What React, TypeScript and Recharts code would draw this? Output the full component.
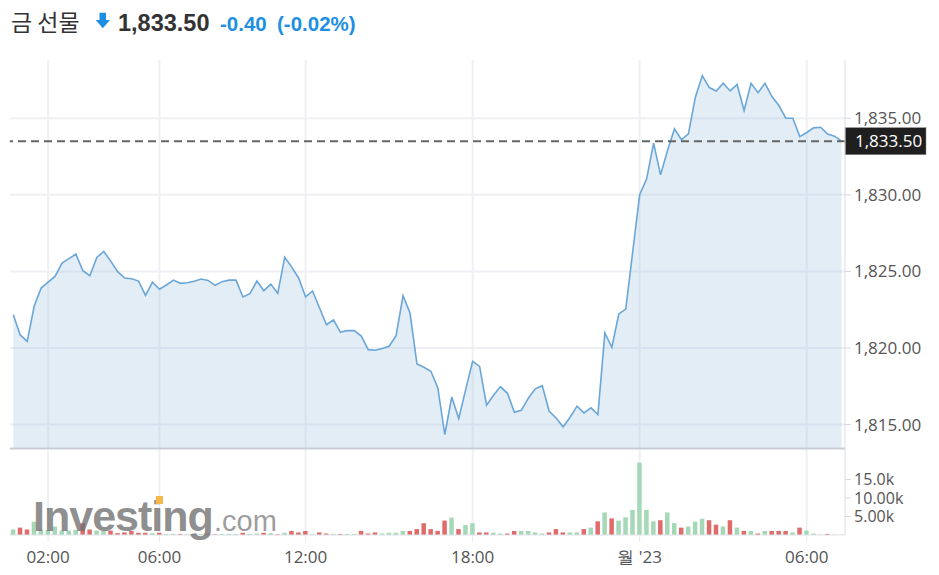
import { ComposedChart, Area, Bar, Cell, XAxis, YAxis, CartesianGrid, ReferenceLine } from "recharts";

const title = "금 선물";
const lastPriceText = "1,833.50";
const changeText = "-0.40";
const changePctText = "(-0.02%)";

// 15-minute closes
const prices = [
  1822.17, 1820.85, 1820.43, 1822.72, 1823.91, 1824.3, 1824.67, 1825.54, 1825.83, 1826.13,
  1825.04, 1824.72, 1825.91, 1826.3, 1825.67, 1824.98, 1824.57, 1824.52, 1824.37, 1823.43,
  1824.3, 1823.83, 1824.11, 1824.43, 1824.22, 1824.26, 1824.35, 1824.5, 1824.41, 1824.09,
  1824.33, 1824.43, 1824.43, 1823.33, 1823.54, 1824.37, 1823.74, 1824.17, 1823.57, 1825.93,
  1825.28, 1824.57, 1823.33, 1823.72, 1822.61, 1821.52, 1821.83, 1821.04, 1821.13, 1821.13,
  1820.78, 1819.89, 1819.85, 1819.96, 1820.11, 1820.8, 1823.41, 1822.28, 1818.96, 1818.74,
  1818.48, 1817.39, 1814.35, 1816.8, 1815.39, 1817.28, 1819.13, 1818.8, 1816.26, 1816.91,
  1817.48, 1817.04, 1815.8, 1815.93, 1816.72, 1817.33, 1817.54, 1815.87, 1815.43, 1814.85,
  1815.48, 1816.2, 1815.76, 1816.09, 1815.65, 1820.98, 1820.04, 1822.22, 1822.54, 1826.28,
  1830.0, 1831.04, 1833.37, 1831.3, 1832.89, 1834.3, 1833.59, 1833.98, 1836.37, 1837.78,
  1837.0, 1836.78, 1837.28, 1836.78, 1837.2, 1835.5, 1837.28, 1836.67, 1837.28, 1836.41,
  1835.83, 1835.0, 1835.0, 1833.8, 1834.07, 1834.37, 1834.41, 1833.96, 1833.83, 1833.5,
];

const volumes = [
  1500, 2000, 1500, 3600, 1500, 1400, 2300, 1200, 1200, 1400,
  3200, 1500, 1200, 1200, 1200, 500, 700, 1100, 600, 600,
  500, 600, 300, 300, 300, 200, 200, 300, 300, 200,
  300, 300, 300, 600, 300, 400, 600, 500, 200, 600,
  1100, 700, 1100, 200, 700, 400, 300, 300, 300, 300,
  1100, 400, 700, 400, 600, 600, 1100, 1100, 1600, 3200,
  1600, 1100, 3900, 4700, 1600, 2700, 3200, 700, 700, 600,
  400, 400, 1100, 1100, 1100, 700, 400, 700, 1600, 700,
  700, 700, 1600, 2000, 3700, 6100, 4500, 3900, 4800, 6800,
  19600, 6800, 3700, 4000, 6100, 3200, 2000, 2300, 3600, 4400,
  4000, 2800, 2300, 4000, 2000, 1100, 1100, 400, 1100, 1100,
  1100, 1100, 700, 2000, 1200, 400, 100, 300, 50, 50,
];

const xTickIdx = [5, 21, 42, 66, 90, 114];
const xTickText = ["02:00", "06:00", "12:00", "18:00", "월 '23", "06:00"];
const priceTicks = [1815, 1820, 1825, 1830, 1835];
const volTicks = [5000, 10000, 15000];
const volTickText = ["5.00k", "10.00k", "15.0k"];
const lastPrice = 1833.5;

const priceDomain = [1807.79, 1838.8];
const priceFloor = 1813.43;
const volDomain = [0, 128600];

const data = prices.map((p, i) => ({
  i,
  price: p,
  vol: volumes[i],
  up: i === 0 || p >= prices[i - 1],
}));

const axisFont = "'Open Sans', 'Noto Sans', sans-serif";
const gridColor = "#eef0f3";

const PriceTag = (props: any) => {
  const vb = props.viewBox || {};
  const x = vb.x + vb.width;
  const y = vb.y;
  return (
    <g>
      <rect x={x} y={y - 13.5} width={81} height={27} fill="#1f1f1f" stroke="#888" strokeWidth={0.5} />
      <text x={x + 10} y={y + 6} fill="#fff" fontSize={17} fontFamily={axisFont}>
        {lastPriceText}
      </text>
    </g>
  );
};

export default function App() {
  return (
    <div style={{ position: "absolute", left: 0, top: 0, width: 939, height: 575, background: "#fff" }}>
      <svg width={939} height={48} style={{ position: "absolute", left: 0, top: 0 }}>
        <text x={11} y={31} fontFamily="'Noto Sans CJK KR', sans-serif" fontSize={23} fill="#333">
          {title}
        </text>
        <path d="M99.5 12.7 H106 V20 H110 L102.8 28.3 L95.7 20 H99.5 Z" fill="#1f8fe5" />
        <text x={118} y={30.5} fontFamily="'Liberation Sans', Arial, sans-serif" fontWeight="bold" fontSize={23.5} fill="#333">
          {lastPriceText}
        </text>
        <text x={220} y={30.5} fontFamily="'Liberation Sans', Arial, sans-serif" fontWeight="bold" fontSize={20.5} fill="#1e8fe3">
          {changeText}
        </text>
        <text x={277} y={30.5} fontFamily="'Liberation Sans', Arial, sans-serif" fontWeight="bold" fontSize={20.5} fill="#1e8fe3">
          {changePctText}
        </text>
      </svg>

      <div style={{ position: "absolute", left: 0, top: 0 }}>
        <ComposedChart width={939} height={575} data={data} margin={{ top: 60, right: 93.8, bottom: 10, left: 9.8 }}>
          <CartesianGrid yAxisId="price" stroke={gridColor} strokeWidth={2} syncWithTicks />
          <XAxis
            dataKey="i"
            type="category"
            ticks={xTickIdx}
            interval={0}
            tickFormatter={(v: number) => xTickText[xTickIdx.indexOf(v)] ?? ""}
            height={30}
            tickSize={7}
            tickMargin={9}
            tickLine={{ stroke: "#e6e8ec" }}
            axisLine={{ stroke: "#dde2e8" }}
            tick={{ fill: "#555", fontSize: 17, fontFamily: axisFont }}
          />
          <YAxis
            yAxisId="price"
            orientation="right"
            width={0.1}
            domain={priceDomain}
            allowDataOverflow
            ticks={priceTicks}
            interval={0}
            tickFormatter={(v: number) => v.toLocaleString("en-US", { minimumFractionDigits: 2 })}
            tickSize={6}
            tickMargin={3}
            tickLine={{ stroke: "#d5d8dc" }}
            axisLine={{ stroke: "#d9dee5" }}
            tick={{ fill: "#555", fontSize: 17, fontFamily: axisFont }}
          />
          <YAxis
            yAxisId="vol"
            orientation="right"
            width={0.1}
            domain={volDomain}
            allowDataOverflow
            ticks={volTicks}
            interval={0}
            tickFormatter={(v: number) => volTickText[volTicks.indexOf(v)] ?? ""}
            tickSize={6}
            tickMargin={3}
            tickLine={{ stroke: "#d5d8dc" }}
            axisLine={false}
            tick={{ fill: "#555", fontSize: 16, fontFamily: axisFont }}
          />
          <Area
            yAxisId="price"
            type="linear"
            dataKey="price"
            baseValue={priceFloor}
            stroke="#6aa6d8"
            strokeWidth={1.6}
            fill="#9cbde0"
            fillOpacity={0.28}
            isAnimationActive={false}
            dot={false}
            activeDot={false}
          />
          <Bar yAxisId="vol" dataKey="vol" barSize={4.5} isAnimationActive={false}>
            {data.map((d) => (
              <Cell key={d.i} fill={d.up ? "#a5d8b6" : "#e06b6b"} />
            ))}
          </Bar>
          <ReferenceLine yAxisId="price" y={priceFloor} stroke="#c9cdd3" strokeWidth={2} />
          <ReferenceLine
            yAxisId="price"
            y={lastPrice}
            stroke="#666"
            strokeWidth={2}
            strokeDasharray="8 5"
            label={(p: any) => <PriceTag {...p} />}
          />
        </ComposedChart>
      </div>

      <svg width={939} height={575} style={{ position: "absolute", left: 0, top: 0, pointerEvents: "none" }}>
        <text x={33} y={530.5} fontFamily="'Liberation Sans', Arial, sans-serif" fontWeight="bold" fontSize={43} letterSpacing={-1} fill="#707070" fillOpacity={0.8}>
          Investing
        </text>
        <rect x={156} y={496} width={7} height={8} fill="#f7b84b" />
        <text x={214} y={530.5} fontFamily="'Liberation Sans', Arial, sans-serif" fontSize={29} fill="#8c8c8c" fillOpacity={0.85}>
          .com
        </text>
      </svg>
    </div>
  );
}
